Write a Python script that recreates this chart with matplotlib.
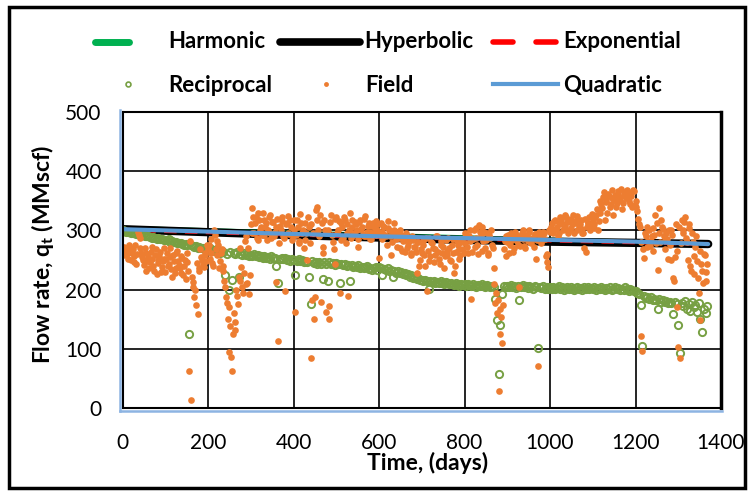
import numpy as np
import matplotlib
matplotlib.use("Agg")
import matplotlib.pyplot as plt
from matplotlib.lines import Line2D
from matplotlib.patches import Rectangle

plt.rcParams['font.family'] = ['Lato', 'DejaVu Sans']
plt.rcParams['mathtext.fontset'] = 'custom'
plt.rcParams['mathtext.rm'] = 'Lato'
plt.rcParams['mathtext.bf'] = 'Lato:bold'

# production days (every 4 days, plus the readings in between)
days = np.arange(0, 1369, 4)
days_mid = np.arange(2, 1369, 4)

# measured field rate, MMscf
field = [
    265, 272, 258, 262, 276, 250, 268, 256, 244, 298, 288, 262, 250, 270, 232, 255, 246, 272, 240, 258, 226, 250, 263, 238, 252,
    230, 262, 244, 255, 222, 248, 236, 266, 242, 228, 254, 240, 218, 246, 63, 14, 213, 188, 174, 159, 236, 255, 242, 262, 248,
    268, 252, 286, 240, 292, 258, 276, 248, 268, 232, 205, 177, 95, 138, 63, 160, 132, 190, 222, 270, 205, 228, 290, 212, 192,
    310, 338, 296, 322, 284, 318, 305, 330, 292, 312, 300, 326, 288, 315, 298, 213, 113, 308, 322, 290, 197, 312, 296, 318, 284,
    300, 162, 318, 282, 328, 296, 270, 312, 250, 305, 84, 183, 150, 334, 340, 290, 180, 262, 318, 162, 300, 172, 326, 280, 244,
    322, 300, 194, 312, 288, 318, 296, 190, 330, 305, 292, 315, 300, 272, 318, 306, 290, 324, 298, 312, 286, 308, 296, 316, 300,
    254, 312, 298, 306, 290, 316, 300, 259, 294, 312, 285, 298, 270, 292, 282, 264, 296, 276, 288, 262, 284, 272, 228, 280, 250,
    262, 282, 240, 198, 288, 256, 278, 246, 268, 290, 252, 275, 262, 236, 284, 258, 270, 248, 286, 228, 264, 276, 252, 280, 268,
    278, 292, 262, 300, 185, 286, 272, 304, 260, 298, 306, 282, 270, 296, 258, 288, 275, 236, 177, 160, 29, 125, 110, 268, 290,
    280, 262, 296, 284, 270, 292, 276, 205, 288, 300, 274, 290, 282, 298, 278, 286, 294, 251, 71, 290, 282, 298, 286, 261, 239,
    298, 312, 300, 318, 306, 296, 322, 310, 302, 326, 314, 300, 320, 310, 296, 316, 324, 308, 318, 296, 270, 263, 312, 322, 306,
    318, 304, 326, 300, 330, 344, 356, 318, 348, 362, 340, 354, 326, 360, 346, 366, 352, 336, 364, 358, 368, 350, 362, 340, 366,
    350, 332, 310, 122, 97, 254, 290, 272, 300, 282, 266, 292, 278, 233, 338, 318, 302, 284, 296, 252, 276, 300, 219, 255, 171,
    104, 85, 318, 296, 322, 280, 310, 240, 296, 226, 272, 248, 195, 149, 232, 260, 214, 244,
]
field_mid = [
    258, 268, 262, 252, 270, 262, 246, 275, 260, 292, 270, 255, 242, 262, 248, 236, 264, 252, 232, 268, 245, 256, 230, 248, 270,
    252, 240, 270, 235, 258, 228, 262, 248, 236, 256, 224, 250, 262, 232, 282, 222, 205, 200, 245, 232, 268, 250, 238, 258, 275,
    276, 262, 245, 300, 268, 282, 236, 262, 240, 215, 188, 150, 170, 87, 126, 145, 200, 176, 215, 238, 195, 282, 210, 270, 225,
    296, 322, 312, 288, 330, 300, 292, 318, 306, 284, 322, 296, 314, 290, 306, 320, 278, 300, 316, 288, 310, 325, 294, 305, 290,
    318, 292, 305, 278, 312, 300, 284, 296, 322, 278, 310, 296, 188, 318, 300, 326, 312, 272, 300, 296, 150, 314, 292, 268, 320,
    296, 316, 284, 306, 322, 278, 310, 300, 288, 318, 296, 310, 286, 314, 302, 294, 320, 290, 308, 298, 285, 312, 304, 292, 310,
    298, 286, 308, 292, 276, 304, 290, 280, 300, 296, 272, 288, 300, 266, 284, 292, 270, 282, 258, 290, 272, 264, 280, 240, 268,
    276, 258, 288, 266, 248, 280, 270, 258, 290, 264, 244, 282, 272, 256, 266, 288, 250, 276, 262, 240, 282, 268, 258, 286, 262,
    296, 272, 290, 282, 264, 300, 288, 276, 309, 290, 266, 298, 284, 262, 292, 300, 270, 210, 195, 182, 168, 154, 175, 282, 256,
    292, 276, 288, 264, 298, 282, 290, 274, 296, 286, 270, 292, 300, 280, 288, 272, 294, 284, 298, 278, 290, 296, 256, 246, 300,
    305, 296, 316, 302, 290, 312, 318, 300, 308, 322, 296, 316, 304, 326, 312, 300, 318, 310, 302, 296, 320, 306, 312, 300, 328,
    310, 322, 336, 316, 350, 338, 364, 352, 330, 358, 344, 368, 352, 340, 362, 356, 370, 346, 360, 354, 364, 344, 358, 368, 342,
    340, 320, 306, 280, 268, 296, 306, 282, 274, 290, 304, 326, 312, 296, 280, 306, 290, 268, 286, 300, 250, 292, 214, 310, 266,
    306, 278, 300, 314, 288, 250, 304, 232, 280, 256, 290, 220, 266, 244, 212, 258, 230,
]

# reciprocal decline model, MMscf
reciprocal = [
    300, 299, 298, 298, 297, 296, 296, 295, 294, 294, 293, 292, 292, 291, 290, 291, 289, 288, 289, 287, 286, 287, 285, 286, 284,
    284, 283, 285, 281, 282, 280, 281, 279, 278, 279, 277, 276, 277, 275, 126, 276, 274, 272, 273, 271, 272, 270, 271, 269, 270,
    268, 270, 266, 267, 265, 268, 264, 262, 266, 263, 225, 261, 199, 264, 217, 262, 260, 263, 222, 261, 259, 262, 258, 260, 257,
    259, 257, 260, 256, 258, 255, 257, 254, 256, 253, 255, 252, 256, 254, 253, 240, 212, 252, 254, 251, 253, 250, 252, 249, 251,
    250, 225, 249, 251, 248, 250, 247, 249, 246, 222, 176, 248, 245, 247, 244, 246, 243, 218, 247, 244, 214, 246, 243, 245, 242,
    245, 243, 212, 244, 241, 243, 240, 242, 215, 241, 239, 240, 238, 241, 237, 239, 236, 238, 240, 235, 237, 234, 236, 238, 233,
    238, 236, 225, 235, 233, 236, 232, 234, 222, 231, 229, 232, 228, 230, 226, 228, 224, 226, 222, 224, 220, 222, 218, 220, 217,
    217, 215, 216, 214, 201, 215, 213, 214, 212, 213, 211, 214, 212, 210, 213, 211, 209, 212, 210, 208, 211, 209, 207, 210, 208,
    209, 207, 210, 208, 206, 209, 207, 205, 208, 206, 209, 207, 205, 208, 206, 204, 207, 205, 185, 149, 57, 140, 192, 206, 204,
    207, 205, 208, 204, 206, 203, 207, 183, 205, 208, 204, 206, 203, 207, 205, 202, 206, 204, 101, 205, 203, 206, 202, 204, 201,
    204, 202, 205, 201, 203, 206, 202, 204, 200, 203, 205, 201, 204, 202, 199, 203, 205, 201, 203, 200, 204, 202, 205, 201, 203,
    202, 204, 200, 203, 201, 205, 202, 199, 203, 201, 204, 200, 202, 205, 201, 203, 199, 202, 200, 204, 201, 198, 202, 200, 197,
    198, 195, 192, 174, 105, 189, 186, 188, 184, 187, 183, 185, 182, 167, 184, 180, 183, 179, 181, 178, 180, 177, 159, 179, 176,
    141, 93, 178, 172, 181, 168, 176, 164, 179, 170, 174, 162, 177, 150, 128, 168, 160, 172,
]

# decline-curve fits
fit_days = [0, 200, 400, 600, 800, 1000, 1200, 1370]
harmonic = [302, 298, 294, 290, 286, 282, 279, 277]
hyperbolic = [302, 297, 292, 288, 284, 281, 279, 277]
exponential = [301, 297, 293, 289, 286, 283, 280, 277]
quadratic = [302, 298, 294, 290, 287, 284, 281, 277]

c_harm = '#00B050'
c_recip = '#77A043'
c_field = '#ED7D31'
c_quad = '#5B9BD5'
c_edge = '#8DB4E2'

W, H = 751, 491
fig = plt.figure(figsize=(W / 100, H / 100), dpi=100)


def px(x, y):
    return x / W, 1 - y / H


ax = fig.add_axes([122.5 / W, 1 - 408.3 / H, (721 - 122.5) / W, (408.3 - 111.8) / H])

ax.plot(fit_days, harmonic, color=c_harm, lw=5, solid_capstyle='round', zorder=2)
ax.plot(fit_days, hyperbolic, color='black', lw=6, solid_capstyle='round', zorder=2.1)
ax.plot(fit_days, exponential, color='red', lw=3, dashes=(3, 2), zorder=2.2)
ax.plot(days, reciprocal, 'o', ms=5.2, mfc='none', mec=c_recip, mew=1.4, zorder=2.3)
ax.plot(np.concatenate([days, days_mid]), field + field_mid, 'o', ms=4.8,
        color=c_field, mec='none', zorder=2.4)
ax.plot(fit_days, quadratic, color=c_quad, lw=3, solid_capstyle='round', zorder=2.5)

ax.set_xlim(0, 1400)
ax.set_ylim(0, 500)
ax.set_xticks(range(0, 1401, 200))
ax.set_yticks(range(0, 501, 100))
ax.grid(True, color='black', lw=1.2)
ax.set_axisbelow(True)
ax.tick_params(length=0, labelsize=15)
ax.tick_params(axis='x', pad=18)
ax.tick_params(axis='y', pad=15)
for s in ax.spines.values():
    s.set_linewidth(1.5)
ax.spines['right'].set_linewidth(2.5)

ax.set_xlabel('Time, (days)', fontsize=16.5, fontweight='bold', va='center')
ax.xaxis.set_label_coords(0.5096, -0.1845)
ax.set_ylabel(r'Flow rate, q$_\mathbf{t}$ (MMscf)', fontsize=16.5, fontweight='bold', va='center')
ax.yaxis.set_label_coords(-0.1345, 0.5187)

# light blue edge along the left and bottom of the plot area
for xs, ys in [((120, 120), (110, 411)), ((120, 722), (411, 411))]:
    (a, ya), (b, yb) = px(xs[0], ys[0]), px(xs[1], ys[1])
    fig.add_artist(Line2D([a, b], [ya, yb], transform=fig.transFigure, color=c_edge, lw=1.8))

# outer frame
fx0, fy0 = px(9, 488)
fx1, fy1 = px(745, 7)
fig.patches.append(Rectangle((fx0, fy0), fx1 - fx0, fy1 - fy0, transform=fig.transFigure,
                             fill=False, edgecolor='black', lw=2.5))


# legend, two rows of three
def leg_line(xa, xb, y, **kw):
    (a, ya), (b, _) = px(xa, y), px(xb, y)
    fig.add_artist(Line2D([a, b], [ya, ya], transform=fig.transFigure, **kw))


def leg_text(x, y, s):
    fx, fy = px(x, y)
    fig.text(fx, fy, s, fontsize=16, fontweight='bold', va='baseline', ha='left')


leg_line(95, 129, 42, color=c_harm, lw=5, solid_capstyle='round')
leg_text(168, 48, 'Harmonic')
leg_line(280, 360, 42, color='black', lw=5.5, solid_capstyle='round')
leg_text(364, 48, 'Hyperbolic')
leg_line(493, 513, 42, color='red', lw=4, solid_capstyle='round')
leg_line(536, 556, 42, color='red', lw=4, solid_capstyle='round')
leg_text(563, 48, 'Exponential')

mx, my = px(128, 84)
fig.add_artist(Line2D([mx], [my], transform=fig.transFigure, marker='o', ms=3.5,
                      mfc='none', mec=c_recip, mew=1.2))
leg_text(168, 92, 'Reciprocal')
mx, my = px(326, 84)
fig.add_artist(Line2D([mx], [my], transform=fig.transFigure, marker='o', ms=3.5,
                      color=c_field, mec='none'))
leg_text(365, 92, 'Field')
leg_line(493, 558, 84, color=c_quad, lw=3)
leg_text(563, 92, 'Quadratic')

fig.savefig('out.png', dpi=100)
